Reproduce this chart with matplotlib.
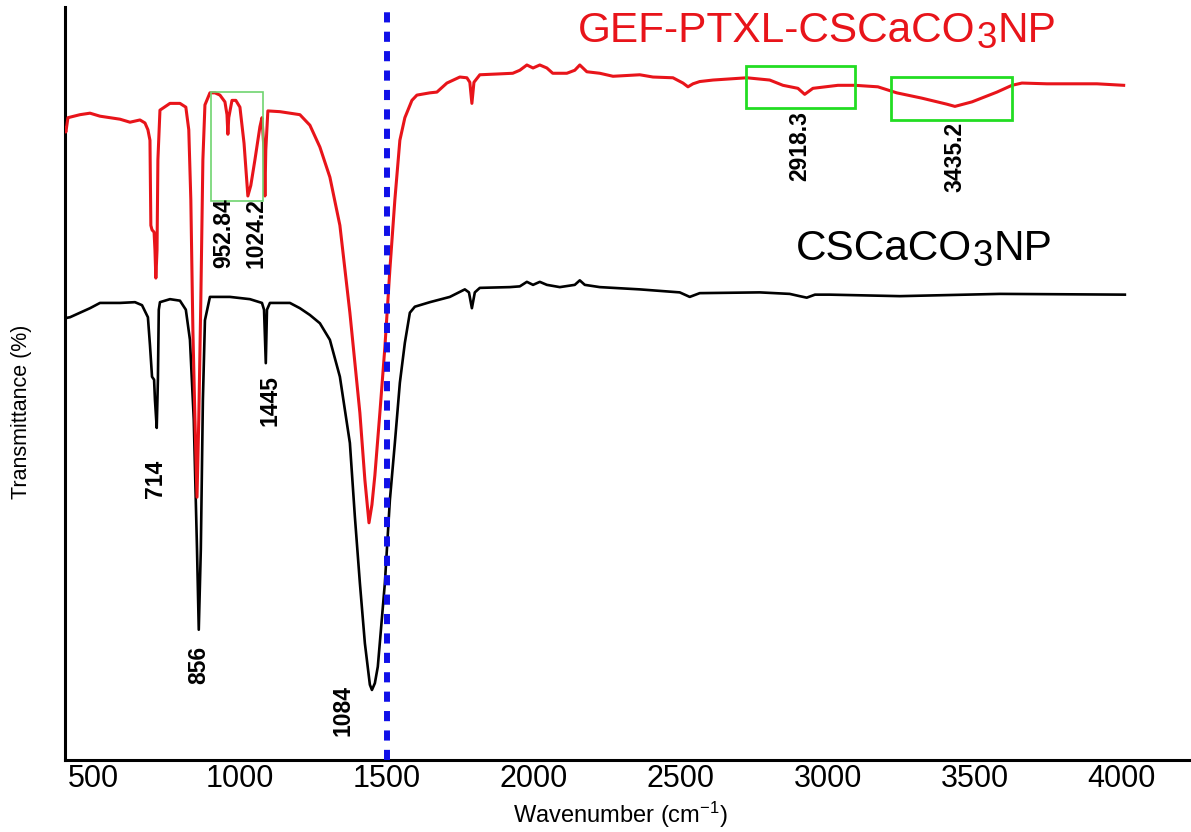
import matplotlib
matplotlib.use("Agg")
import matplotlib.pyplot as plt
from matplotlib.patches import Rectangle

plt.rcParams['font.family'] = ['Liberation Sans', 'DejaVu Sans']
plt.rcParams['mathtext.fontset'] = 'custom'
plt.rcParams['mathtext.rm'] = 'Liberation Sans'
plt.rcParams['mathtext.default'] = 'regular'

# ---- FTIR spectra (wavenumber in cm-1, transmittance in offset %) ----
cs_wn = [405, 408, 422, 456, 490, 524, 592, 643, 667, 687, 694, 701, 708, 711,
         717, 721, 724, 728, 762, 796, 816, 830, 843, 854, 860, 867, 874, 881,
         898, 966, 1034, 1075, 1082, 1088, 1092, 1102, 1170, 1204, 1238, 1272,
         1306, 1340, 1374, 1391, 1408, 1425, 1442, 1449, 1459, 1469, 1493, 1510,
         1527, 1544, 1561, 1578, 1595, 1646, 1714, 1765, 1779, 1789, 1799, 1816,
         1918, 1952, 1976, 1997, 2020, 2044, 2088, 2139, 2156, 2173, 2224, 2360,
         2496, 2530, 2564, 2768, 2870, 2904, 2928, 2956, 3006, 3245, 3585, 4010]
cs_t = [57.4, 58.7, 58.8, 59.4, 60.0, 60.7, 60.7, 60.8, 60.4, 58.8, 55.1, 50.9,
        50.5, 47.8, 44.1, 50.5, 59.8, 60.8, 61.2, 61.0, 59.8, 55.8, 45.2, 28.0,
        17.3, 28.0, 47.8, 58.4, 61.5, 61.5, 61.2, 60.7, 59.8, 52.7, 59.8, 60.7,
        60.7, 60.0, 59.1, 58.0, 55.8, 50.9, 42.1, 32.3, 23.5, 15.5, 10.0, 9.3,
        10.2, 12.4, 23.5, 34.5, 42.1, 50.1, 55.4, 59.4, 60.2, 60.8, 61.5, 62.5,
        62.1, 60.0, 62.1, 62.7, 62.8, 62.9, 63.5, 63.1, 63.5, 63.1, 62.8, 63.1,
        63.7, 63.1, 62.8, 62.5, 62.1, 61.5, 62.0, 62.1, 61.9, 61.6, 61.4, 61.8,
        61.8, 61.6, 61.9, 61.8]

gef_wn = [405, 408, 415, 456, 490, 524, 592, 626, 660, 677, 687, 694, 697, 701,
          708, 711, 714, 718, 721, 728, 762, 796, 816, 826, 833, 840, 847, 854,
          860, 867, 874, 881, 898, 915, 932, 949, 956, 959, 962, 973, 986, 1000,
          1014, 1027, 1037, 1051, 1068, 1075, 1082, 1085, 1088, 1095, 1136, 1170,
          1204, 1238, 1272, 1306, 1340, 1374, 1408, 1425, 1439, 1449, 1459, 1476,
          1493, 1510, 1527, 1544, 1561, 1585, 1602, 1646, 1670, 1704, 1748, 1772,
          1782, 1789, 1796, 1816, 1874, 1928, 1952, 1976, 1997, 2020, 2044, 2064,
          2112, 2139, 2156, 2180, 2224, 2269, 2360, 2405, 2473, 2507, 2524, 2541,
          2564, 2609, 2724, 2802, 2847, 2898, 2921, 2949, 3034, 3092, 3170, 3234,
          3319, 3404, 3432, 3490, 3575, 3626, 3660, 3745, 3915, 4006]
gef_t = [83.9, 83.4, 85.3, 85.7, 85.9, 85.5, 85.1, 84.7, 85.0, 84.6, 83.7, 82.3,
         71.0, 70.4, 70.1, 67.7, 64.0, 67.7, 79.7, 86.3, 87.2, 87.2, 86.7, 83.7,
         74.4, 57.1, 45.2, 34.9, 45.2, 61.1, 79.7, 87.0, 88.6, 88.6, 88.3, 87.4,
         85.7, 83.1, 85.3, 87.6, 87.6, 86.7, 81.9, 74.9, 76.3, 79.7, 84.1, 85.3,
         81.0, 74.9, 81.0, 86.2, 86.1, 85.9, 85.7, 84.3, 81.4, 77.4, 71.0, 59.4,
         46.1, 37.2, 31.5, 33.9, 37.8, 46.1, 54.8, 65.1, 74.4, 82.3, 85.3, 87.6,
         88.3, 88.6, 88.7, 89.9, 90.7, 90.6, 90.0, 87.2, 90.0, 91.0, 91.1, 91.2,
         91.6, 92.3, 91.9, 92.3, 91.9, 91.2, 91.2, 91.6, 92.3, 91.4, 91.2, 90.8,
         91.0, 90.7, 90.6, 89.9, 89.4, 89.8, 90.1, 90.3, 90.6, 90.3, 89.6, 89.2,
         88.4, 89.2, 89.6, 89.6, 89.4, 88.6, 87.9, 87.1, 86.8, 87.4, 88.7, 89.6,
         89.9, 89.8, 89.8, 89.6]

# Band annotations: text, x position (cm-1), y position
cs_band_text = ['714', '856', '1445', '1084']
cs_band_x = [714, 860, 1102, 1350]
cs_band_y = [37.4, 12.6, 47.7, 6.6]

gef_band_text = ['952.84', '1024.2', '2918.3', '3435.2']
gef_band_x = [946, 1054, 2905, 3432]
gef_band_y = [70.0, 70.0, 81.5, 80.1]

# Highlighted regions: (x0, x1, y0, y1)
gef_regions = [(901, 1078, 74.2, 88.7), (2721, 3092, 86.6, 92.2),
               (3214, 3626, 85.0, 90.7)]

ref_line = 1500
x_ticks = [500, 1000, 1500, 2000, 2500, 3000, 3500, 4000]

fig = plt.figure(figsize=(11.91, 8.32), dpi=100)
ax = fig.add_axes([65 / 1191, 72 / 832, 1126 / 1191, 753 / 832])

ax.plot(cs_wn, cs_t, color='black', lw=1.9, zorder=2)
ax.plot(gef_wn, gef_t, color='#e8141a', lw=2.2, zorder=3)
ax.axvline(ref_line, color='#1010e8', lw=4.3, linestyle=(0, (1.7, 1.55)),
           zorder=5)

for i, (x0, x1, y0, y1) in enumerate(gef_regions):
    lw = 1.2 if i == 0 else 2.0
    col = '#6fd46f' if i == 0 else '#22dd22'
    ax.add_patch(Rectangle((x0, y0), x1 - x0, y1 - y0, fill=False,
                           edgecolor=col, lw=lw, zorder=4))

for txt, x, y in zip(cs_band_text + gef_band_text, cs_band_x + gef_band_x,
                     cs_band_y + gef_band_y):
    ax.text(x, y, txt, rotation=90, ha='center', va='center',
            fontsize=16.5, fontweight='bold', color='black', zorder=6)


def formula_label(x, y, head, sub, tail, color):
    t1 = ax.text(x, y, head, color=color, fontsize=30.5, ha='left',
                 va='baseline', zorder=6)
    t2 = ax.annotate(sub, xy=(1, 0), xycoords=t1, xytext=(0.5, -3.6),
                     textcoords='offset points', fontsize=26.5, color=color,
                     ha='left', va='bottom')
    ax.annotate(tail, xy=(1, 0), xycoords=t2, xytext=(0.5, 3.6),
                textcoords='offset points', fontsize=30.5, color=color,
                ha='left', va='bottom')


formula_label(2150, 95.35, 'GEF-PTXL-CSCaCO', '3', 'NP', '#e8141a')
formula_label(2890, 66.4, 'CSCaCO', '3', 'NP', 'black')

ax.set_xlim(405, 4235)
ax.set_ylim(0, 100)
ax.set_xticks(x_ticks)
ax.set_xticklabels([str(v) for v in x_ticks])
ax.set_yticks([])
ax.tick_params(axis='x', length=0, pad=3, labelsize=22)
for side in ('top', 'right'):
    ax.spines[side].set_visible(False)
for side in ('left', 'bottom'):
    ax.spines[side].set_linewidth(2.2)
    ax.spines[side].set_color('black')

fig.text(22 / 1191, 1 - 412 / 832, 'Transmittance (%)', rotation=90,
         ha='center', va='center', fontsize=15.5)
fig.text(620 / 1191, 1 - 815 / 832, 'Wavenumber (cm$^{-1}$)',
         ha='center', va='center', fontsize=17)

fig.savefig('out.png', dpi=100)
